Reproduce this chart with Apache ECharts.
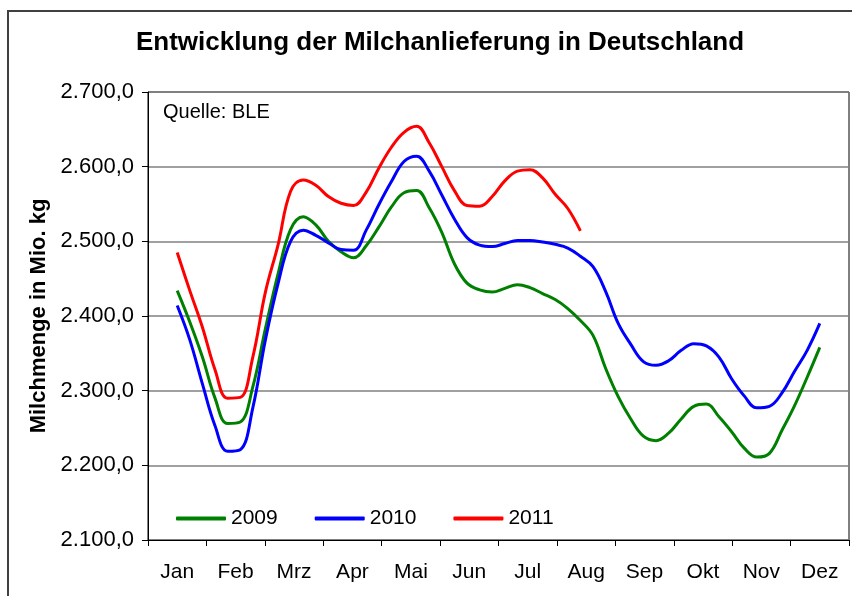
<!DOCTYPE html>
<html>
<head>
<meta charset="utf-8">
<script src="https://cdn.jsdelivr.net/npm/echarts@6/dist/echarts.min.js"></script>
<style>
    html, body { margin: 0; padding: 0; background: #fff; }
    #milch { width: 852px; height: 596px; }
</style>
</head>
<body>
<div id="milch"></div>
<script>
// Monate (Kategorien der x-Achse)
var months = ['Jan', 'Feb', 'Mrz', 'Apr', 'Mai', 'Jun', 'Jul', 'Aug', 'Sep', 'Okt', 'Nov', 'Dez'];
// Kalenderwochen
var weeks = [1, 2, 3, 4, 5, 6, 7, 8, 9, 10, 11, 12, 13, 14, 15, 16, 17, 18, 19, 20, 21, 22, 23, 24, 25, 26,
    27, 28, 29, 30, 31, 32, 33, 34, 35, 36, 37, 38, 39, 40, 41, 42, 43, 44, 45, 46, 47, 48, 49, 50, 51, 52];
// Milchanlieferung in Mio. kg je Woche
var data2009 = [2434, 2392, 2345, 2290, 2256, 2258, 2305, 2383, 2456, 2516, 2533, 2522, 2500, 2486, 2478, 2494,
    2519, 2546, 2565, 2568, 2545, 2512, 2470, 2444, 2435, 2432, 2437, 2442, 2438, 2430, 2422, 2410, 2394, 2374,
    2330, 2292, 2262, 2239, 2233, 2243, 2262, 2279, 2282, 2265, 2245, 2223, 2211, 2216, 2247, 2280, 2318, 2358];
var data2010 = [2414, 2368, 2309, 2253, 2219, 2221, 2277, 2368, 2443, 2500, 2515, 2508, 2498, 2489, 2488, 2515,
    2549, 2580, 2607, 2614, 2594, 2562, 2530, 2505, 2495, 2493, 2497, 2501, 2501, 2499, 2496, 2491, 2480, 2466,
    2433, 2390, 2362, 2339, 2334, 2340, 2354, 2363, 2360, 2345, 2316, 2293, 2277, 2279, 2297, 2326, 2354, 2390];
var data2011 = [2485, 2434, 2385, 2328, 2290, 2291, 2345, 2432, 2495, 2567, 2582, 2575, 2560, 2551, 2548, 2566,
    2598, 2626, 2646, 2654, 2632, 2600, 2568, 2548, 2547, 2560, 2581, 2594, 2596, 2585, 2563, 2544, 2514];
// y-Achse
var yMin = 2100, yMax = 2700, yStep = 100;

function pairs(vals) {
    var out = [];
    for (var i = 0; i < vals.length; i++) {
        out.push([weeks[i], vals[i]]);
    }
    return out;
}

// 2.700,0 Format
function deFormat(v) {
    var s = Math.round(v).toString();
    return s.replace(/\B(?=(\d{3})+(?!\d))/g, '.') + ',0';
}

var font = 'Liberation Sans, Arial, sans-serif';

var chart = echarts.init(document.getElementById('milch'));
chart.setOption({
    animation: false,
    color: ['#008000', '#0000ff', '#ff0000'],
    textStyle: { fontFamily: font },
    title: {
        text: 'Entwicklung der Milchanlieferung in Deutschland',
        left: 435,
        top: 25,
        textAlign: 'center',
        textStyle: { fontSize: 26, fontWeight: 'bold', color: '#000', fontFamily: font }
    },
    graphic: [
        {
            type: 'rect',
            shape: { x: 8, y: 11, width: 900, height: 700 },
            style: { fill: 'none', stroke: '#404040', lineWidth: 2 },
            silent: true
        },
        {
            type: 'text',
            left: 163,
            top: 102,
            style: { text: 'Quelle: BLE', fontSize: 20, fill: '#000', fontFamily: font }
        }
    ],
    legend: {
        left: 171,
        top: 503,
        itemWidth: 50,
        itemHeight: 4,
        itemGap: 37,
        icon: 'roundRect',
        textStyle: { fontSize: 21, color: '#000', fontFamily: font },
        data: ['2009', '2010', '2011']
    },
    grid: {
        left: 148,
        right: 3,
        top: 92,
        bottom: 56,
        show: true,
        borderColor: '#000',
        borderWidth: 1
    },
    xAxis: [
        {
            type: 'category',
            data: months,
            boundaryGap: true,
            axisLine: { lineStyle: { color: '#000', width: 1 } },
            axisTick: { show: true, length: 6, lineStyle: { color: '#000' } },
            axisLabel: { fontSize: 21, color: '#000', margin: 22, fontFamily: font }
        },
        {
            type: 'value',
            min: -1.318,
            max: 54.318,
            show: false
        }
    ],
    yAxis: {
        type: 'value',
        min: yMin,
        max: yMax,
        interval: yStep,
        name: 'Milchmenge in Mio. kg',
        nameLocation: 'middle',
        nameGap: 97,
        nameTextStyle: { fontSize: 22, fontWeight: 'bold', color: '#000', fontFamily: font },
        axisLine: { show: true, onZero: false, lineStyle: { color: '#000' } },
        axisTick: { show: true, length: 6, lineStyle: { color: '#000' } },
        axisLabel: { fontSize: 22, color: '#000', margin: 14, formatter: deFormat, fontFamily: font },
        splitLine: { lineStyle: { color: '#808080', width: 1.5 } }
    },
    series: [
        {
            name: '2009',
            type: 'line',
            xAxisIndex: 1,
            data: pairs(data2009),
            smooth: 0.4,
            showSymbol: false,
            symbol: 'none',
            lineStyle: { width: 3 }
        },
        {
            name: '2010',
            type: 'line',
            xAxisIndex: 1,
            data: pairs(data2010),
            smooth: 0.4,
            showSymbol: false,
            symbol: 'none',
            lineStyle: { width: 3 }
        },
        {
            name: '2011',
            type: 'line',
            xAxisIndex: 1,
            data: pairs(data2011),
            smooth: 0.4,
            showSymbol: false,
            symbol: 'none',
            lineStyle: { width: 3 }
        }
    ]
});
</script>
</body>
</html>
